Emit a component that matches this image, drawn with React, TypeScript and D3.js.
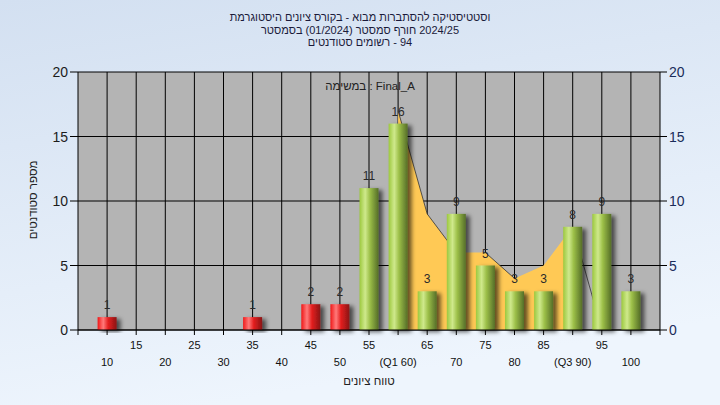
import * as d3 from 'd3';
import React from 'react';

// grade histogram data
const categories = ["10", "15", "20", "25", "30", "35", "40", "45", "50", "55", "60", "65", "70", "75", "80", "85", "90", "95", "100"];
const tickLabels = ["10", "15", "20", "25", "30", "35", "40", "45", "50", "55", "(Q1 60)", "65", "70", "75", "80", "85", "(Q3 90)", "95", "100"];
const counts = [1, 0, 0, 0, 0, 1, 0, 2, 2, 11, 16, 3, 9, 5, 3, 3, 8, 9, 3];
const passGrade = 55;

// yellow comparison area behind the bars
const areaCategories = ["60", "65", "70", "75", "80", "85", "90", "95"];
const areaValues = [17, 9, 6, 6, 4, 5, 8, 0];

const yTicks = [0, 5, 10, 15, 20];

const titleLines = [
  "היסטוגרמת ציונים בקורס - מבוא להסתברות וסטטיסטיקה",
  "בסמסטר (01/2024) סמסטר חורף 2024/25",
  "סטודנטים רשומים - 94",
];
const taskLabel = "במשימה : Final_A";
const xTitle = "טווח ציונים";
const yTitle = "מספר סטודנטים";

const font = "'Liberation Sans', Arial, sans-serif";
const titleSize = 11;

// the title puts its words left to right (each Hebrew word still reads right to left),
// so every word gets its own <text> and bidi can't reorder them
let measureCtx: any = null;
function textWidth(s: string, size: number): number {
  if (!measureCtx) measureCtx = document.createElement("canvas").getContext("2d");
  measureCtx.font = size + "px " + font;
  return measureCtx.measureText(s).width;
}

function WordLine(props: { text: string; cx: number; y: number; size: number; fill: string }): any {
  const words = props.text.split(" ");
  const gap = textWidth(" ", props.size);
  const widths = words.map((w) => textWidth(w, props.size));
  const total = d3.sum(widths) + gap * (words.length - 1);
  let pos = props.cx - total / 2;
  return (
    <g>
      {words.map((w, i) => {
        const wx = pos + widths[i] / 2;
        pos += widths[i] + gap;
        return (
          <text key={i} x={wx} y={props.y} textAnchor="middle" fontSize={props.size} fill={props.fill}>{w}</text>
        );
      })}
    </g>
  );
}

function App(): any {
  const width = 720;
  const height = 405;
  const margin = { top: 72, right: 60, bottom: 75, left: 78 };

  const x = d3.scalePoint()
    .domain(categories)
    .range([margin.left, width - margin.right])
    .padding(1);

  const y = d3.scaleLinear()
    .domain([0, 20])
    .range([height - margin.bottom, margin.top]);

  const barW = 19;
  const x0 = margin.left;
  const x1 = width - margin.right;
  const yBase = y(0);

  const areaPts = areaCategories.map((c, i) => ({ c, v: areaValues[i] }));
  const fillPts = areaPts.slice(0, areaPts.length - 1);
  const area = d3.area<any>()
    .x((d) => x(d.c) as number)
    .y0(yBase)
    .y1((d) => y(d.v));
  const drops = d3.pairs(areaPts).filter(([a, b]) => b.v < a.v);

  return (
    <svg width={width} height={height}
      style={{ position: "absolute", left: 0, top: 0, fontFamily: font }}>
      <defs>
        <linearGradient id="bg" x1="0" y1="0" x2="0.3" y2="1">
          <stop offset="0" stopColor="#d3e0f1" />
          <stop offset="1" stopColor="#eef5fd" />
        </linearGradient>
        <linearGradient id="red" x1="0" y1="0" x2="1" y2="0">
          <stop offset="0" stopColor="#f01818" />
          <stop offset="0.3" stopColor="#ff7a7a" />
          <stop offset="0.55" stopColor="#e52020" />
          <stop offset="1" stopColor="#8a1414" />
        </linearGradient>
        <linearGradient id="green" x1="0" y1="0" x2="1" y2="0">
          <stop offset="0" stopColor="#9cc83e" />
          <stop offset="0.3" stopColor="#cfe98c" />
          <stop offset="0.55" stopColor="#9cbf48" />
          <stop offset="1" stopColor="#556e28" />
        </linearGradient>
        <filter id="shadow" x="-50%" y="-20%" width="200%" height="140%">
          <feDropShadow dx="4" dy="2" stdDeviation="2" floodColor="#000" floodOpacity="0.6" />
        </filter>
      </defs>

      <rect width={width} height={height} fill="url(#bg)" />
      <rect x={x0} y={margin.top} width={x1 - x0} height={yBase - margin.top} fill="#b4b4b4" />

      {/* grid */}
      {categories.map((c) => (
        <line key={"v" + c} x1={x(c)} x2={x(c)} y1={margin.top} y2={yBase + 5} stroke="#000" />
      ))}
      {yTicks.map((t) => (
        <line key={"h" + t} x1={x0 - 8} x2={x1 + 7} y1={y(t)} y2={y(t)} stroke="#000" />
      ))}

      {/* area */}
      <path d={area(fillPts) || ""} fill="#ffc955" />
      {drops.map(([a, b], i) => (
        <line key={"d" + i} x1={x(a.c)} y1={y(a.v)} x2={x(b.c)} y2={y(b.v)}
          stroke="#333" strokeOpacity={0.8} />
      ))}

      {/* bars */}
      {categories.map((c, i) => counts[i] > 0 && (
        <rect key={"b" + c}
          x={(x(c) as number) - barW / 2}
          y={y(counts[i])}
          width={barW}
          height={yBase - y(counts[i])}
          fill={+c < passGrade ? "url(#red)" : "url(#green)"}
          filter="url(#shadow)" />
      ))}
      {categories.map((c, i) => counts[i] > 0 && (
        <text key={"l" + c} x={x(c)} y={y(counts[i]) - 8} textAnchor="middle"
          fontSize={12} fill="#2a2a2a">{counts[i]}</text>
      ))}

      {/* axes */}
      <line x1={x0} x2={x0} y1={margin.top} y2={yBase + 5} stroke="#000" />
      <line x1={x1} x2={x1} y1={margin.top} y2={yBase + 5} stroke="#000" />
      <line x1={x0} x2={x1} y1={yBase} y2={yBase} stroke="#000" />

      {yTicks.map((t) => (
        <text key={"yl" + t} x={x0 - 10} y={y(t) + 5} textAnchor="end" fontSize={14} fill="#1c1c1c">{t}</text>
      ))}
      {yTicks.map((t) => (
        <text key={"yr" + t} x={x1 + 9} y={y(t) + 5} textAnchor="start" fontSize={14} fill="#1a2c5a">{t}</text>
      ))}

      {categories.map((c, i) => (
        <text key={"xl" + c} x={x(c)} y={i % 2 === 1 ? yBase + 19 : yBase + 36}
          textAnchor="middle" fontSize={11} fill="#111">{tickLabels[i]}</text>
      ))}

      {/* titles */}
      {titleLines.map((t, i) => (
        <WordLine key={"t" + i} text={t} cx={360} y={21 + i * 12.5} size={titleSize} fill="#1a1a3a" />
      ))}
      <text x={370} y={90} textAnchor="middle" fontSize={11.5} fill="#222">{taskLabel}</text>
      <text x={369} y={385} textAnchor="middle" fontSize={11.5} fill="#222">{xTitle}</text>
      <text transform="translate(37,200) rotate(-90)" textAnchor="middle" fontSize={11.5} fill="#222">{yTitle}</text>
    </svg>
  );
}

export default App;
